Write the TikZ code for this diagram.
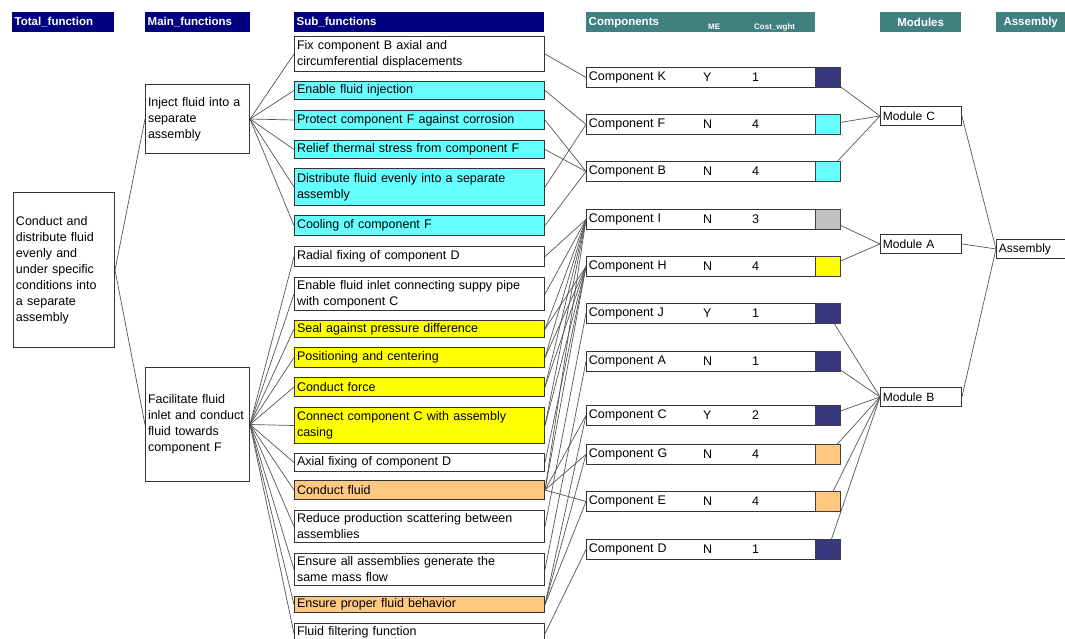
\documentclass[tikz,border=0pt]{standalone}
\usepackage{fontspec}
\setmainfont{Liberation Sans}
\definecolor{hdrnavy}{RGB}{0,0,128}
\definecolor{hdrteal}{RGB}{64,128,128}
\definecolor{fcyan}{RGB}{102,255,255}
\definecolor{fyellow}{RGB}{255,255,0}
\definecolor{forange}{RGB}{255,200,128}
\definecolor{sqnavy}{RGB}{56,56,128}
\definecolor{sqgray}{RGB}{192,192,192}
\definecolor{linkgray}{RGB}{85,85,85}
\pgfdeclarelayer{bg}
\pgfdeclarelayer{links}
\pgfsetlayers{bg,links,main}
\begin{document}
\begin{tikzpicture}[x=1pt,y=-1pt,
  hdr/.style={anchor=north west, inner xsep=2.5pt, inner ysep=0pt, minimum height=20pt,
    text=white, align=left, font=\bfseries\fontsize{11.5}{13}\selectfont},
  small/.style={anchor=west, inner sep=0pt, text=white, font=\bfseries\fontsize{8}{9}\selectfont},
  fbox/.style={anchor=north west, draw=black!80, line width=1pt, fill=white,
    inner xsep=2.5pt, inner ysep=0pt, align=left, font=\fontsize{12.5}{16}\selectfont},
  cbox/.style={fbox, line width=0.9pt, text width=224pt, minimum height=20pt},
  sq/.style={anchor=north west, draw=black!75, line width=0.9pt, minimum width=25pt,
    minimum height=20pt, inner sep=0pt},
  val/.style={anchor=west, inner sep=0pt, font=\fontsize{12.5}{16}\selectfont},
  mbox/.style={fbox, line width=0.9pt, minimum height=19pt, font=\fontsize{12}{14}\selectfont},
  link/.style={draw=linkgray, line width=0.7pt}]

\begin{pgfonlayer}{bg}
  \fill[white] (0,0) rectangle (1065,638);
\end{pgfonlayer}
\useasboundingbox (0,0) rectangle (1065,638);

% column headers
\node[hdr, fill=hdrnavy, text width=97pt] (hTot) at (12,12) {Total\_function};
\node[hdr, fill=hdrnavy, text width=100pt] (hMain) at (145,12) {Main\_functions};
\node[hdr, fill=hdrnavy, text width=245pt] (hSub) at (294,12) {Sub\_functions};
\node[hdr, fill=hdrteal, text width=224pt, minimum height=20pt, anchor=north west] (hComp) at (586,12) {\raisebox{2pt}{Components}};
\node[small] (hME) at (708,27) {ME};
\node[small] (hCost) at (754,27) {Cost\_wght};
\node[hdr, fill=hdrteal, text width=76pt, align=center] (hMod) at (880,12) {Modules};
\node[hdr, fill=hdrteal, text width=64pt, align=center] (hAsm) at (996,12) {Assembly};

% total function
\node[fbox, text width=96pt, minimum height=155pt] (tot) at (13,192)
  {Conduct and\\distribute fluid\\evenly and\\under specific\\conditions into\\a separate\\assembly};

% main functions
\node[fbox, text width=99pt, minimum height=69pt] (main1) at (145,84)
  {Inject fluid into a\\separate\\assembly};
\node[fbox, text width=99pt, minimum height=114pt] (main2) at (145,367)
  {Facilitate fluid\\inlet and conduct\\fluid towards\\component F};

% sub functions
\tikzset{sub/.style={fbox, text width=245pt}}
\node[sub, minimum height=35pt] (s1) at (294,36) {Fix component B axial and\\circumferential displacements};
\node[sub, fill=fcyan, minimum height=18pt] (s2) at (294,81) {Enable fluid injection};
\node[sub, fill=fcyan, minimum height=19pt] (s3) at (294,110) {Protect component F against corrosion};
\node[sub, fill=fcyan, minimum height=18pt] (s4) at (294,140) {Relief thermal stress from component F};
\node[sub, fill=fcyan, minimum height=37pt] (s5) at (294,168) {Distribute fluid evenly into a separate\\assembly};
\node[sub, fill=fcyan, minimum height=20pt] (s6) at (294,215) {Cooling of component F};
\node[sub, minimum height=20pt] (s7) at (294,246) {Radial fixing of component D};
\node[sub, minimum height=33pt] (s8) at (294,277) {Enable fluid inlet connecting suppy pipe\\with component C};
\node[sub, fill=fyellow, minimum height=17pt] (s9) at (294,320) {Seal against pressure difference};
\node[sub, fill=fyellow, minimum height=20pt] (s10) at (294,347) {Positioning and centering};
\node[sub, fill=fyellow, minimum height=19pt] (s11) at (294,377) {Conduct force};
\node[sub, fill=fyellow, minimum height=36pt] (s12) at (294,407) {Connect component C with assembly\\casing};
\node[sub, minimum height=18pt] (s13) at (294,453) {Axial fixing of component D};
\node[sub, fill=forange, minimum height=19pt] (s14) at (294,480) {Conduct fluid};
\node[sub, minimum height=32pt] (s15) at (294,510) {Reduce production scattering between\\assemblies};
\node[sub, minimum height=32pt] (s16) at (294,553) {Ensure all assemblies generate the\\same mass flow};
\node[sub, fill=forange, minimum height=16pt] (s17) at (294,596) {Ensure proper fluid behavior};
\node[sub, minimum height=20pt, text depth=6pt] (s18) at (294,623) {Fluid filtering function};

% components: name / top / ME / cost weight / colour
\foreach \nm/\yy/\me/\cw/\col in {K/67/Y/1/sqnavy, F/114/N/4/fcyan, B/161/N/4/fcyan,
    I/209/N/3/sqgray, H/256/N/4/fyellow, J/303/Y/1/sqnavy, A/351/N/1/sqnavy,
    C/405/Y/2/sqnavy, G/444/N/4/forange, E/491/N/4/forange, D/539/N/1/sqnavy}{
  \node[cbox] (c\nm) at (586,\yy) {Component \nm};
  \node[sq, fill=\col] (q\nm) at (815,\yy) {};
  \node[val] (me\nm) at (703,\yy+10) {\me};
  \node[val] (cw\nm) at (752,\yy+10) {\cw};
}

% modules and assembly
\node[mbox, text width=76pt] (mC) at (880,106) {Module C};
\node[mbox, text width=76pt] (mA) at (880,234) {Module A};
\node[mbox, text width=76pt] (mB) at (880,387) {Module B};
\node[mbox, text width=80pt] (asm) at (996,239) {Assembly};

% connectors
\begin{pgfonlayer}{links}
  \draw[link] (tot.east) -- (main1.west);
  \draw[link] (tot.east) -- (main2.west);
  \foreach \i in {1,...,6} \draw[link] (main1.east) -- (s\i.west);
  \foreach \i in {7,...,18} \draw[link] (main2.east) -- (s\i.west);
  \foreach \s/\cc in {1/K, 2/F, 3/B, 4/B, 5/F, 6/B,
      7/I, 8/I, 9/I, 10/I, 11/I, 12/I, 14/I,
      9/H, 10/H, 11/H, 12/H, 13/H, 14/H,
      15/J, 16/A, 14/C, 17/C, 14/G, 17/G, 14/E, 17/E, 18/D}
    \draw[link] (s\s.east) -- (c\cc.west);
  \foreach \cc/\m in {K/C, F/C, B/C, I/A, H/A, J/B, A/B, C/B, G/B, E/B, D/B}
    \draw[link] (q\cc.center) -- (m\m.west);
  \foreach \m in {C,A,B} \draw[link] (m\m.east) -- (asm.west);
\end{pgfonlayer}
\end{tikzpicture}
\end{document}
